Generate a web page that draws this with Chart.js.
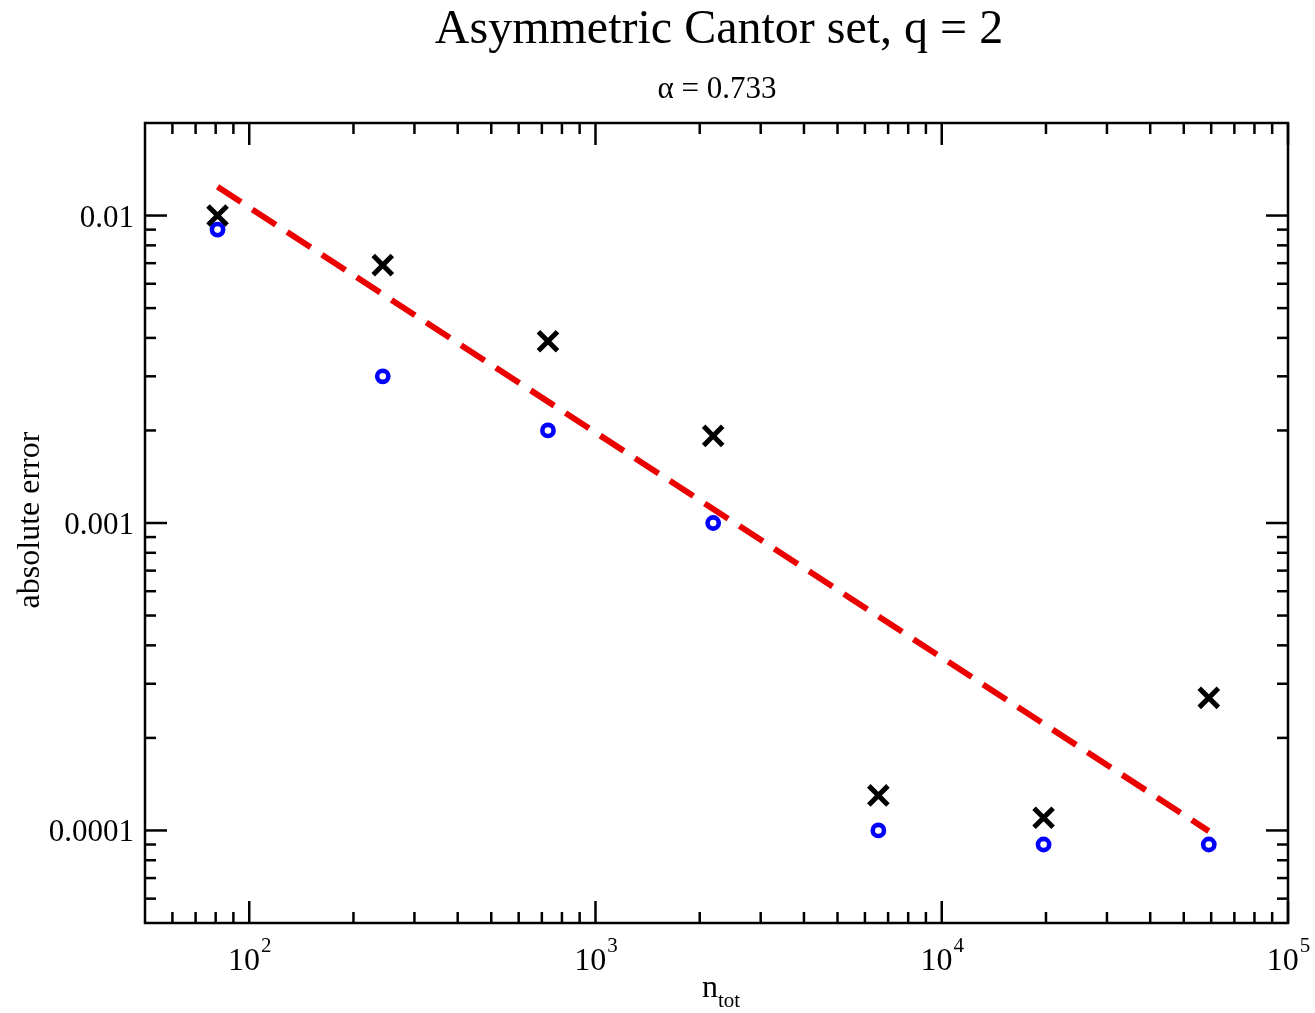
<!DOCTYPE html>
<html>
<head>
<meta charset="utf-8">
<title>Asymmetric Cantor set, q = 2</title>
<script src="https://cdn.jsdelivr.net/npm/chart.js@4"></script>
<style>
  body { margin: 0; background: #fff; }
  #wrap { width: 1315px; height: 1013px; }
</style>
</head>
<body>
<div id="wrap"><canvas id="myChart" width="1315" height="1013"></canvas></div>
<script>
// n_tot = 3^4 ... 3^10
const nTot = [81, 243, 729, 2187, 6561, 19683, 59049];
// black crosses
const errCross = [0.0100, 0.0069, 0.0039, 0.00192, 0.00013, 0.00011, 0.00027];
// blue circles
const errCircle = [0.0090, 0.0030, 0.0020, 0.0010, 0.00010, 0.00009, 0.00009];
// dashed fit line, alpha = 0.733
const fitX = [81, 59049];
const fitY = [0.0124, 0.0000995];

const xMajor = [1e2, 1e3, 1e4, 1e5];
const xExpLabels = ['2', '3', '4', '5'];
const yMajor = [0.01, 0.001, 0.0001];
const yLabels = ['0.01', '0.001', '0.0001'];

const SERIF = '"Liberation Serif", "DejaVu Serif", serif';

function toPoints(xs, ys) {
  return xs.map((v, i) => ({x: v, y: ys[i]}));
}

function minorTicks(lo, hi) {
  let out = [];
  for (let d = 1e-6; d < 1e6; d *= 10) {
    for (let m = 2; m <= 9; m++) {
      const v = m * d;
      if (v > lo * 1.0001 && v < hi * 0.9999) out.push(v);
    }
  }
  return out;
}

// frame, inward ticks, labels and titles
const framePlugin = {
  id: 'frame',
  afterDatasetsDraw(chart) {
    const {ctx, chartArea: a, scales} = chart;
    const x = scales.x, y = scales.y;
    ctx.save();
    ctx.strokeStyle = '#000';
    ctx.lineWidth = 2.5;
    ctx.strokeRect(a.left, a.top, a.right - a.left, a.bottom - a.top);

    const tick = (x1, y1, x2, y2) => {
      ctx.beginPath(); ctx.moveTo(x1, y1); ctx.lineTo(x2, y2); ctx.stroke();
    };
    const bigT = 22, smallT = 11;
    xMajor.forEach(v => {
      const px = x.getPixelForValue(v);
      tick(px, a.bottom, px, a.bottom - bigT);
      tick(px, a.top, px, a.top + bigT);
    });
    minorTicks(x.min, x.max).forEach(v => {
      const px = x.getPixelForValue(v);
      tick(px, a.bottom, px, a.bottom - smallT);
      tick(px, a.top, px, a.top + smallT);
    });
    yMajor.forEach(v => {
      const py = y.getPixelForValue(v);
      tick(a.left, py, a.left + bigT, py);
      tick(a.right, py, a.right - bigT, py);
    });
    minorTicks(y.min, y.max).forEach(v => {
      const py = y.getPixelForValue(v);
      tick(a.left, py, a.left + smallT, py);
      tick(a.right, py, a.right - smallT, py);
    });

    ctx.fillStyle = '#000';
    // x tick labels 10^n
    xMajor.forEach((v, i) => {
      const px = x.getPixelForValue(v);
      ctx.font = '32px ' + SERIF;
      const w1 = ctx.measureText('10').width;
      ctx.font = '21px ' + SERIF;
      const w2 = ctx.measureText(xExpLabels[i]).width;
      const start = px - (w1 + w2) / 2;
      ctx.textAlign = 'left';
      ctx.textBaseline = 'alphabetic';
      ctx.font = '32px ' + SERIF;
      ctx.fillText('10', start, 970);
      ctx.font = '21px ' + SERIF;
      ctx.fillText(xExpLabels[i], start + w1 + 1, 952);
    });
    // y tick labels
    ctx.font = '31px ' + SERIF;
    ctx.textAlign = 'right';
    yMajor.forEach((v, i) => {
      const py = y.getPixelForValue(v);
      ctx.fillText(yLabels[i], 134, py + 11);
    });

    // titles
    ctx.textAlign = 'center';
    ctx.font = '48px ' + SERIF;
    ctx.fillText('Asymmetric Cantor set, q = 2', 719, 43);
    ctx.font = '31px ' + SERIF;
    ctx.fillText('\u03b1 = 0.733', 717, 98);

    // x axis title n_tot
    ctx.textAlign = 'left';
    ctx.font = '32px ' + SERIF;
    const wn = ctx.measureText('n').width;
    ctx.font = '21px ' + SERIF;
    const wt = ctx.measureText('tot').width;
    const sx = 721 - (wn + wt) / 2;
    ctx.font = '32px ' + SERIF;
    ctx.fillText('n', sx, 997);
    ctx.font = '21px ' + SERIF;
    ctx.fillText('tot', sx + wn, 1007);

    // y axis title
    ctx.save();
    ctx.translate(39, 520);
    ctx.rotate(-Math.PI / 2);
    ctx.textAlign = 'center';
    ctx.font = '32px ' + SERIF;
    ctx.fillText('absolute error', 0, 0);
    ctx.restore();

    ctx.restore();
  }
};

const myChartRef = document.getElementById('myChart').getContext('2d');
new Chart(myChartRef, {
  type: 'scatter',
  data: {
    datasets: [{
      label: 'fit',
      data: toPoints(fitX, fitY),
      showLine: true,
      borderColor: 'rgb(235, 0, 0)',
      borderWidth: 6,
      borderDash: [28, 13.5],
      pointRadius: 0,
      fill: false
    }, {
      label: 'crosses',
      data: toPoints(nTot, errCross),
      pointStyle: 'crossRot',
      pointRadius: 13.5,
      pointBorderWidth: 5,
      borderColor: '#000',
      backgroundColor: '#000'
    }, {
      label: 'circles',
      data: toPoints(nTot, errCircle),
      pointStyle: 'circle',
      pointRadius: 5.6,
      pointBorderWidth: 4.6,
      borderColor: 'rgb(0, 0, 255)',
      backgroundColor: '#fff'
    }]
  },
  options: {
    responsive: false,
    animation: false,
    layout: {padding: {left: 145, right: 27, top: 123, bottom: 90}},
    scales: {
      x: {type: 'logarithmic', min: 50, max: 100000, display: false},
      y: {type: 'logarithmic', min: 0.00005, max: 0.02, display: false}
    },
    plugins: {
      legend: {display: false},
      tooltip: {enabled: false}
    }
  },
  plugins: [framePlugin]
});
</script>
</body>
</html>
